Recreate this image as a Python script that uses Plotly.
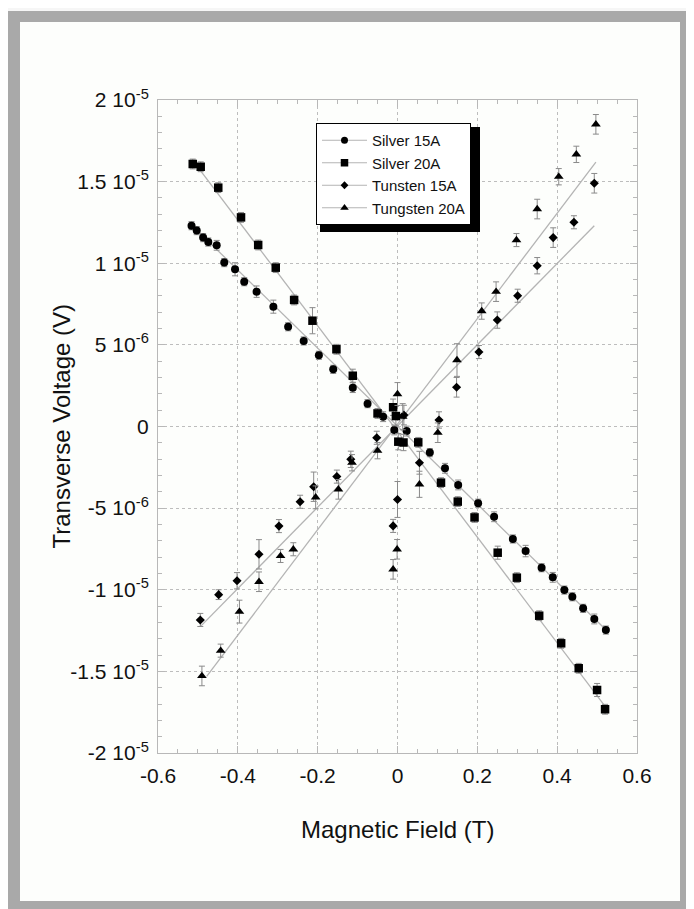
import plotly.graph_objects as go

# ---------------- data ----------------
silver15_x = [-0.516, -0.503, -0.487, -0.474, -0.453, -0.434, -0.407, -0.384, -0.353, -0.311,
              -0.274, -0.235, -0.197, -0.161, -0.112, -0.075, -0.036, -0.008, 0.023, 0.081,
              0.119, 0.152, 0.202, 0.242, 0.289, 0.321, 0.361, 0.389, 0.418, 0.438,
              0.465, 0.493, 0.522]
silver15_y = [12.30, 12.00, 11.57, 11.30, 11.10, 10.04, 9.63, 8.87, 8.26, 7.34,
              6.11, 5.24, 4.36, 3.50, 2.38, 1.40, 0.60, -0.21, -0.28, -1.60,
              -2.56, -3.58, -4.70, -5.53, -6.89, -7.63, -8.65, -9.24, -10.02, -10.43,
              -11.14, -11.79, -12.47]
silver15_err = [0.25, 0.25, 0.25, 0.25, 0.3, 0.25, 0.4, 0.25, 0.35, 0.4,
                0.25, 0.25, 0.25, 0.25, 0.3, 0.25, 0.3, 0.3, 0.3, 0.25,
                0.3, 0.3, 0.25, 0.3, 0.25, 0.35, 0.25, 0.3, 0.25, 0.25,
                0.25, 0.3, 0.25]

silver20_x = [-0.513, -0.493, -0.449, -0.392, -0.349, -0.305, -0.259, -0.213, -0.153, -0.112,
              -0.050, -0.011, -0.004, 0.002, 0.015, 0.052, 0.109, 0.151, 0.193, 0.251,
              0.299, 0.355, 0.410, 0.454, 0.500, 0.520]
silver20_y = [16.08, 15.91, 14.63, 12.81, 11.12, 9.73, 7.75, 6.48, 4.73, 3.11,
              0.80, 1.18, 0.64, -0.93, -0.98, -0.97, -3.44, -4.60, -5.57, -7.73,
              -9.26, -11.59, -13.28, -14.81, -16.14, -17.32]
silver20_err = [0.3, 0.3, 0.3, 0.3, 0.3, 0.3, 0.3, 0.8, 0.3, 0.4,
                0.3, 0.5, 0.6, 0.5, 0.5, 0.3, 0.3, 0.3, 0.3, 0.4,
                0.3, 0.3, 0.3, 0.3, 0.4, 0.3]

tung15_x = [-0.494, -0.448, -0.402, -0.347, -0.297, -0.244, -0.210, -0.152, -0.117, -0.052,
            -0.011, 0.000, 0.016, 0.055, 0.104, 0.148, 0.204, 0.250, 0.301, 0.350,
            0.390, 0.442, 0.493]
tung15_y = [-11.85, -10.30, -9.45, -7.83, -6.10, -4.61, -3.69, -3.07, -2.01, -0.69,
            -6.09, -4.47, 0.70, -2.22, 0.40, 2.40, 4.56, 6.52, 8.01, 9.85,
            11.57, 12.51, 14.90]
tung15_err = [0.4, 0.3, 0.5, 0.9, 0.4, 0.4, 0.9, 0.4, 0.5, 0.4,
              0.4, 1.1, 0.6, 0.7, 0.5, 0.6, 0.4, 0.5, 0.4, 0.5,
              0.6, 0.4, 0.6]

tung20_x = [-0.490, -0.443, -0.396, -0.347, -0.293, -0.261, -0.205, -0.148, -0.114, -0.050,
            -0.011, -0.001, 0.000, 0.013, 0.055, 0.101, 0.149, 0.211, 0.247, 0.298,
            0.350, 0.404, 0.448, 0.497]
tung20_y = [-15.28, -13.73, -11.34, -9.51, -7.93, -7.52, -4.34, -3.85, -2.22, -1.48,
            -8.75, -7.52, 1.99, 0.60, -3.54, -0.38, 4.07, 7.07, 8.26, 11.42,
            13.32, 15.30, 16.67, 18.51]
tung20_err = [0.6, 0.4, 0.7, 0.6, 0.4, 0.4, 0.7, 0.6, 0.5, 0.5,
              0.6, 0.6, 0.7, 0.8, 0.8, 0.6, 1.0, 0.5, 0.6, 0.4,
              0.6, 0.5, 0.5, 0.6]

# straight-line fits, end points (units of 1e-6 V)
silver15_fit_x = [-0.516, 0.522]
silver15_fit_y = [12.35, -12.45]
silver20_fit_x = [-0.513, 0.522]
silver20_fit_y = [16.30, -17.20]
tung15_fit_x = [-0.494, 0.493]
tung15_fit_y = [-12.26, 12.30]
tung20_fit_x = [-0.478, 0.497]
tung20_fit_y = [-15.30, 16.20]

series_names = ["Silver 15A", "Silver 20A", "Tunsten 15A", "Tungsten 20A"]
series_symbols = ["circle", "square", "diamond", "triangle-up"]
series_sizes = [8, 8.5, 7, 8.5]

y_tickvals = [-2e-5, -1.5e-5, -1e-5, -5e-6, 0, 5e-6, 1e-5, 1.5e-5, 2e-5]
y_ticktext = ["-2 10<sup>-5</sup>", "-1.5 10<sup>-5</sup>", "-1 10<sup>-5</sup>",
              "-5 10<sup>-6</sup>", "0", "5 10<sup>-6</sup>", "1 10<sup>-5</sup>",
              "1.5 10<sup>-5</sup>", "2 10<sup>-5</sup>"]
x_tickvals = [-0.6, -0.4, -0.2, 0, 0.2, 0.4, 0.6]
x_ticktext = ["-0.6", "-0.4", "-0.2", "0", "0.2", "0.4", "0.6"]

SCALE = 1e-6

# ---------------- figure ----------------
# the page has an 8px body margin; work in page pixel coordinates
OFF = 8
PAGE_W, PAGE_H = 694, 909
W, H = PAGE_W - OFF, PAGE_H - OFF
PL, PR, PT, PB = 158, 637, 100, 753          # plot area in page pixels
L, R, T, B = PL - OFF, PAGE_W - PR, PT - OFF, PAGE_H - PB
pw, ph = PR - PL, PB - PT


def px_x(p):
    return (p - PL) / pw


def px_y(p):
    return (PB - p) / ph


fig = go.Figure()

data_sets = [
    (silver15_x, silver15_y, silver15_err, silver15_fit_x, silver15_fit_y),
    (silver20_x, silver20_y, silver20_err, silver20_fit_x, silver20_fit_y),
    (tung15_x, tung15_y, tung15_err, tung15_fit_x, tung15_fit_y),
    (tung20_x, tung20_y, tung20_err, tung20_fit_x, tung20_fit_y),
]

line_gray = "#b4b4b4"

for i, (xs, ys, es, fx, fy) in enumerate(data_sets):
    fig.add_trace(go.Scatter(
        x=fx, y=[v * SCALE for v in fy], mode="lines",
        line=dict(color=line_gray, width=1.3), showlegend=False, hoverinfo="skip"))

for i, (xs, ys, es, fx, fy) in enumerate(data_sets):
    fig.add_trace(go.Scatter(
        x=xs, y=[v * SCALE for v in ys], mode="markers",
        marker=dict(symbol=series_symbols[i], size=series_sizes[i], color="black",
                    line=dict(width=0)),
        error_y=dict(type="data", array=[v * SCALE for v in es], visible=True,
                     color="#8a8a8a", thickness=1, width=3),
        showlegend=False, name=series_names[i]))

# legend entries (line + marker sample)
for i in range(4):
    fig.add_trace(go.Scatter(
        x=[None], y=[None], mode="lines+markers", name=series_names[i],
        line=dict(color=line_gray, width=1),
        marker=dict(symbol=series_symbols[i], size=series_sizes[i] - 1, color="black"),
        legendgroup="g%d" % i))

axis_common = dict(
    showline=True, linecolor="#b8b8b8", linewidth=1, mirror="ticks",
    ticks="inside", ticklen=7, tickcolor="#b8b8b8", tickwidth=1,
    showgrid=True, gridcolor="#bdbdbd", griddash="dot", gridwidth=1,
    zeroline=False, tickfont=dict(family="Liberation Sans, Arial", size=21, color="#111"),
    tickmode="array",
)

fig.update_xaxes(range=[-0.6, 0.6], tickvals=x_tickvals, ticktext=x_ticktext,
                 minor=dict(dtick=0.05, ticks="inside", ticklen=4, tickcolor="#b8b8b8",
                            showgrid=False),
                 ticklabelstandoff=4, **axis_common)
fig.update_yaxes(range=[-2e-5, 2e-5], tickvals=y_tickvals, ticktext=y_ticktext,
                 minor=dict(dtick=1e-6, tick0=0, ticks="inside", ticklen=4,
                            tickcolor="#b8b8b8", showgrid=False),
                 ticklabelstandoff=4, **axis_common)

# legend box in page pixels and its drop shadow
LEG_X0, LEG_Y0 = 316, 123
LEG_X1, LEG_Y1 = 476, 228

shapes = [
    # outer gray frame
    dict(type="rect", xref="paper", yref="paper", layer="below",
         x0=px_x(6), x1=px_x(PAGE_W + 5), y0=px_y(PAGE_H + 5), y1=px_y(11),
         fillcolor="#a9a9a9", line=dict(width=0)),
    # inner white panel
    dict(type="rect", xref="paper", yref="paper", layer="below",
         x0=px_x(20), x1=px_x(680), y0=px_y(901), y1=px_y(22),
         fillcolor="#fdfefc", line=dict(width=0)),
    # legend drop shadow
    dict(type="rect", xref="paper", yref="paper", layer="above",
         x0=px_x(LEG_X0 + 4), x1=px_x(LEG_X1 + 4), y0=px_y(LEG_Y1 + 4), y1=px_y(LEG_Y0 + 4),
         fillcolor="black", line=dict(width=0)),
]

annotations = [
    dict(text="Magnetic Field (T)", xref="paper", yref="paper", x=0.5, y=px_y(829),
         xanchor="center", yanchor="middle", showarrow=False,
         font=dict(family="Liberation Sans, Arial", size=24, color="#111")),
    dict(text="Transverse Voltage (V)", xref="paper", yref="paper", x=px_x(61), y=0.5,
         xanchor="center", yanchor="middle", showarrow=False, textangle=-90,
         font=dict(family="Liberation Sans, Arial", size=24, color="#111")),
]

fig.update_layout(
    width=W, height=H,
    margin=dict(l=L, r=R, t=T, b=B, autoexpand=False),
    paper_bgcolor="#f6f6f6", plot_bgcolor="#fdfefc",
    shapes=shapes, annotations=annotations,
    showlegend=True,
    legend=dict(x=px_x(LEG_X0), y=px_y(LEG_Y0), xanchor="left", yanchor="top",
                bgcolor="white", bordercolor="black", borderwidth=1,
                font=dict(family="Liberation Sans, Arial", size=15, color="#111"),
                itemwidth=45, tracegroupgap=5, traceorder="normal",
                entrywidth=104, entrywidthmode="pixels"),
)

fig.write_html("out.html")
